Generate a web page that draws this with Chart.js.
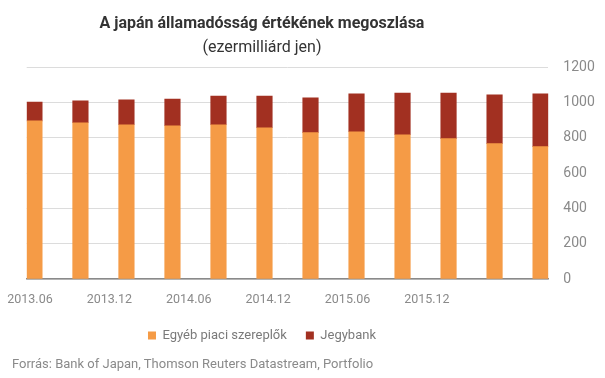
<!DOCTYPE html>
<html>
<head>
<meta charset="utf-8">
<script src="https://cdn.jsdelivr.net/npm/chart.js@4"></script>
<style>
  html, body { margin: 0; padding: 0; background: #fff; }
  #wrap { position: relative; width: 605px; height: 378px; overflow: hidden; }
  canvas { display: block; }
  #src { position: absolute; left: 12px; top: 356px; font: 13px Roboto, sans-serif; line-height: 15px; color: #8a8a8a; white-space: nowrap; }
</style>
</head>
<body>
<div id="wrap">
  <canvas id="c" width="605" height="378"></canvas>
  <div id="src">Forrás: Bank of Japan, Thomson Reuters Datastream, Portfolio</div>
</div>
<script>
// ---- data ----
const categories = ['2013.06','2013.09','2013.12','2014.03','2014.06','2014.09','2014.12','2015.03','2015.06','2015.09','2015.12','2016.03'];
const egyebValues    = [897, 886, 875, 869, 875, 858, 830, 835, 818, 796, 768, 751];
const jegybankValues = [107, 124, 141, 152, 163, 180, 197, 215, 237, 259, 276, 299];
const xTickLabels = ['2013.06','2013.12','2014.06','2014.12','2015.06','2015.12'];
const yTickValues = [0, 200, 400, 600, 800, 1000, 1200];
const seriesNames = ['Egyéb piaci szereplők', 'Jegybank'];

// ---- layout constants ----
const BAR_PAD = 0.168;          // half bar width in category units
const LABEL_START = 0.0063;     // first x label position (fraction of plot width)
const LABEL_STEP = 0.1522;      // spacing of x labels (fraction of plot width)
const CENTER_X = 262;
const LEGEND_SHIFT_Y = -10;
const Y_AXIS_WIDTH = 46.7;

const recenter = {
  id: 'recenter',
  afterLayout(chart) {
    for (const b of chart.boxes) {
      if (b.axis) continue;
      const d = CENTER_X - (b.left + b.right) / 2;
      b.left += d; b.right += d;
      if (typeof b.adjustHitBoxes === 'function') {
        b.top += LEGEND_SHIFT_Y; b.bottom += LEGEND_SHIFT_Y;
        b.adjustHitBoxes();
      }
    }
  }
};

const toPoints = arr => arr.map((v, i) => ({ x: i, y: v }));

new Chart(document.getElementById('c'), {
  type: 'bar',
  data: {
    datasets: [
      { label: seriesNames[0], data: toPoints(egyebValues), backgroundColor: '#F59B46', xAxisID: 'x', yAxisID: 'y', barThickness: 15.5 },
      { label: seriesNames[1], data: toPoints(jegybankValues), backgroundColor: '#A23021', xAxisID: 'x', yAxisID: 'y', barThickness: 15.5 }
    ]
  },
  plugins: [recenter],
  options: {
    responsive: false,
    animation: false,
    devicePixelRatio: 1,
    layout: { padding: { left: 26.7, right: 10, top: 0, bottom: 16 } },
    plugins: {
      title: {
        display: true,
        text: 'A japán államadósság értékének megoszlása',
        color: '#333',
        font: { family: 'Roboto', size: 16, weight: 'bold', lineHeight: 1.2 },
        padding: { top: 14, bottom: 0 }
      },
      subtitle: {
        display: true,
        text: '(ezermilliárd jen)',
        color: '#333',
        font: { family: 'Roboto', size: 16, weight: 'normal', lineHeight: 1.2 },
        padding: { top: 5, bottom: 10 }
      },
      legend: {
        position: 'bottom',
        labels: {
          boxWidth: 8, boxHeight: 8, padding: 19,
          color: '#7a7a7a',
          font: { family: 'Roboto', size: 13 }
        }
      },
      tooltip: { enabled: false }
    },
    scales: {
      x: {
        type: 'linear',
        display: false,
        stacked: true,
        offset: false,
        min: -BAR_PAD,
        max: categories.length - 1 + BAR_PAD
      },
      xl: {
        type: 'linear',
        position: 'bottom',
        min: 0, max: 1,
        offset: false,
        grid: { display: false, drawTicks: false },
        border: { display: true, color: '#8a8a8a', width: 1.5 },
        afterBuildTicks: (scale) => {
          scale.ticks = xTickLabels.map((l, i) => ({ value: LABEL_START + i * LABEL_STEP }));
        },
        afterFit: (scale) => { scale.paddingLeft = 0; scale.paddingRight = 0; },
        ticks: {
          autoSkip: false, maxRotation: 0, padding: 13,
          color: '#8a8a8a',
          font: { family: 'Roboto', size: 12.5 },
          callback: (v, i) => xTickLabels[i]
        }
      },
      y: {
        position: 'right',
        stacked: true,
        min: 0, max: 1200,
        afterBuildTicks: (scale) => { scale.ticks = yTickValues.map(v => ({ value: v })); },
        afterFit: (scale) => { scale.width = Y_AXIS_WIDTH; },
        grid: { color: '#dcdcdc', drawTicks: false },
        border: { display: false },
        ticks: {
          padding: 15,
          color: '#8a8a8a',
          font: { family: 'Roboto', size: 14 },
          callback: (v) => String(v)
        }
      }
    }
  }
});
</script>
</body>
</html>
